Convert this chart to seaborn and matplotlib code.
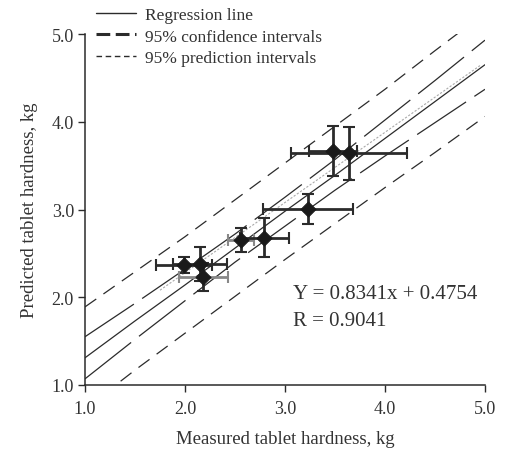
import numpy as np
import pandas as pd
import seaborn as sns
import matplotlib.pyplot as plt
from matplotlib.lines import Line2D

# Measured vs predicted tablet hardness (kg), with error bars
measured = [1.99, 2.15, 2.18, 2.56, 2.79, 3.23, 3.48, 3.64]
predicted = [2.37, 2.38, 2.23, 2.65, 2.68, 3.01, 3.67, 3.64]
measured_err = [0.28, 0.27, 0.245, 0.13, 0.245, 0.45, 0.24, 0.58]
predicted_err = [0.09, 0.19, 0.155, 0.135, 0.22, 0.17, 0.285, 0.30]

# Regression line and interval bands
band_x = [1.0, 1.5, 2.0, 2.5, 3.0, 3.5, 4.0, 4.5, 5.0]
reg_y = [1.31, 1.73, 2.14, 2.56, 2.98, 3.39, 3.81, 4.23, 4.65]
ci_upper = [1.55, 1.93, 2.32, 2.72, 3.14, 3.57, 4.02, 4.47, 4.93]
ci_lower = [1.07, 1.52, 1.96, 2.40, 2.81, 3.22, 3.61, 3.99, 4.37]
pi_upper = [1.89, 2.29, 2.69, 3.11, 3.53, 3.95, 4.37, 4.81, 5.24]
pi_lower = [0.73, 1.17, 1.59, 2.01, 2.43, 2.84, 3.25, 3.65, 4.06]

# faint grey guide line through the points
guide_x = [1.75, 4.95]
guide_y = [2.08, 4.64]

ticks = [1.0, 2.0, 3.0, 4.0, 5.0]
tick_labels = ["1.0", "2.0", "3.0", "4.0", "5.0"]

sns.set_theme(style="white")
plt.rcParams['font.family'] = ['Liberation Serif', 'DejaVu Serif']
plt.rcParams['text.color'] = '#333333'

df = pd.DataFrame({'measured': measured, 'predicted': predicted})
bands = pd.DataFrame({'x': band_x, 'reg': reg_y, 'ci_up': ci_upper, 'ci_lo': ci_lower,
                      'pi_up': pi_upper, 'pi_lo': pi_lower})

fig = plt.figure(figsize=(5.07, 4.52), dpi=100)
ax = fig.add_axes([85 / 507, 1 - 386 / 452, 400 / 507, 351 / 452])

ink = '#2b2b2b'
sns.lineplot(data=bands, x='x', y='reg', color=ink, lw=0.9, ax=ax)
for col in ['ci_up', 'ci_lo']:
    sns.lineplot(data=bands, x='x', y=col, color=ink, lw=0.9, ax=ax, dashes=False,
                 linestyle=(0, (47, 8)))
for col in ['pi_up', 'pi_lo']:
    sns.lineplot(data=bands, x='x', y=col, color=ink, lw=0.9, ax=ax,
                 linestyle=(0, (11, 7)))
ax.plot(guide_x, guide_y, color='#aaaaaa', lw=0.8, linestyle=(0, (2, 1.5)))

# error bars (a couple of horizontal bars print lighter)
light = {2, 3}
for i in range(len(measured)):
    xc = '#888888' if i in light else ink
    ax.errorbar(measured[i], predicted[i], xerr=measured_err[i], fmt='none',
                ecolor=xc, elinewidth=2, capsize=4, capthick=1.5, zorder=3)
    ax.errorbar(measured[i], predicted[i], yerr=predicted_err[i], fmt='none',
                ecolor=ink, elinewidth=2, capsize=4, capthick=1.5, zorder=3)
sns.scatterplot(data=df, x='measured', y='predicted', marker='D', s=60, color='#1a1a1a',
                edgecolor='#1a1a1a', zorder=4, ax=ax)

ax.set_xlim(1.0, 5.0)
ax.set_ylim(1.0, 5.0)
ax.set_xticks(ticks, tick_labels)
ax.set_yticks(ticks, tick_labels)
ax.tick_params(axis='both', direction='out', length=5, width=1, color=ink,
               labelsize=13, labelcolor='#333333', bottom=True, left=True)
ax.tick_params(axis='x', pad=6)
ax.tick_params(axis='y', pad=3)
for s in ['top', 'right']:
    ax.spines[s].set_visible(False)
for s in ['left', 'bottom']:
    ax.spines[s].set_color(ink)
    ax.spines[s].set_linewidth(1.1)

ax.set_xlabel('Measured tablet hardness, kg', fontsize=13.5, labelpad=9, color='#333333')
ax.set_ylabel('Predicted tablet hardness, kg', fontsize=13.5, labelpad=10, color='#333333')

ax.text(3.08, 2.04, 'Y = 0.8341x + 0.4754', fontsize=15, va='center', ha='left')
ax.text(3.08, 1.73, 'R = 0.9041', fontsize=15, va='center', ha='left')

handles = [
    Line2D([], [], color=ink, lw=1.0),
    Line2D([], [], color=ink, lw=2.2, linestyle=(0, (4.5, 1.8))),
    Line2D([], [], color=ink, lw=1.0, linestyle=(0, (4, 2.6))),
]
labels = ['Regression line', '95% confidence intervals', '95% prediction intervals']
fig.legend(handles, labels, loc='upper left', bbox_to_anchor=(96 / 507, 1 - 8 / 452),
           frameon=False, fontsize=12.5, handlelength=2.3, handletextpad=0.55,
           labelspacing=0.3, borderpad=0, borderaxespad=0)

fig.savefig('out.png', dpi=100)
